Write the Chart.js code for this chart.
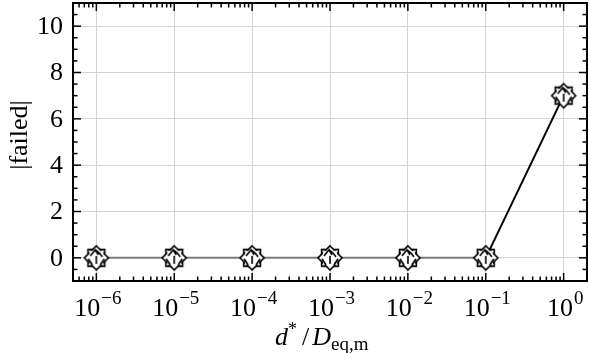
<!DOCTYPE html>
<html>
<head>
<meta charset="utf-8">
<script src="https://cdn.jsdelivr.net/npm/chart.js@4/dist/chart.umd.min.js"></script>
<style>
  html, body { margin: 0; padding: 0; background: #fff; }
</style>
</head>
<body>
<canvas id="chart" width="589" height="353"></canvas>
<script>
// data
const exponents = [-6, -5, -4, -3, -2, -1, 0];
const failed = [0, 0, 0, 0, 0, 0, 7];
const yTicks = [0, 2, 4, 6, 8, 10];
const xTickExp = ["\u22126", "\u22125", "\u22124", "\u22123", "\u22122", "\u22121", "0"];

const SERIF = '"Liberation Serif", "DejaVu Serif", serif';

// star-like marker (several overlapped outline markers)
function makeMarker() {
  const s = 30, c = s / 2, r = 12;
  const cv = document.createElement("canvas");
  cv.width = s; cv.height = s;
  const g = cv.getContext("2d");
  g.lineWidth = 1.6;
  g.strokeStyle = "#000";
  g.fillStyle = "#fff";
  const poly = (pts) => {
    g.beginPath();
    pts.forEach((p, i) => (i ? g.lineTo(p[0], p[1]) : g.moveTo(p[0], p[1])));
    g.closePath();
    g.fill();
    g.stroke();
  };
  const q = r * 0.7;
  poly([[c - q, c - q], [c + q, c - q], [c + q, c + q], [c - q, c + q]]);
  poly([[c, c - r], [c + r, c], [c, c + r], [c - r, c]]);
  // fill the union white so only the outer star and a few inner strokes show
  g.fillStyle = "#fff";
  g.beginPath();
  g.moveTo(c - q + 1.5, c - q + 1.5); g.lineTo(c + q - 1.5, c - q + 1.5); g.lineTo(c + q - 1.5, c + q - 1.5); g.lineTo(c - q + 1.5, c + q - 1.5);
  g.closePath(); g.fill();
  // inner arrow strokes
  g.lineWidth = 1.6;
  g.beginPath();
  g.moveTo(c - 6, c - 2); g.lineTo(c - 1, c - 8); g.lineTo(c + 2, c - 3);
  g.moveTo(c - 1, c - 8); g.lineTo(c + 3, c - 5); g.lineTo(c + 6, c - 1);
  g.moveTo(c - 8, c + 1); g.lineTo(c - 4, c + 7);
  g.moveTo(c + 8, c + 1); g.lineTo(c + 4, c + 7);
  g.moveTo(c, c - 2); g.lineTo(c, c + 6);
  g.stroke();
  return cv;
}

const framePlugin = {
  id: "frame",
  afterDraw(chart) {
    const { ctx, chartArea: a, scales } = chart;
    const xs = scales.x, ys = scales.y;
    ctx.save();
    ctx.strokeStyle = "#000";

    // inward ticks
    ctx.lineWidth = 1.5;
    const tick = (x1, y1, x2, y2) => { ctx.beginPath(); ctx.moveTo(x1, y1); ctx.lineTo(x2, y2); ctx.stroke(); };
    for (let e = -7; e <= 0; e++) {
      for (let k = 1; k <= 9; k++) {
        const v = k * Math.pow(10, e);
        if (v < xs.min || v > xs.max) continue;
        const px = xs.getPixelForValue(v);
        const len = k === 1 ? 8 : 4.5;
        tick(px, a.bottom, px, a.bottom - len);
        tick(px, a.top, px, a.top + len);
      }
    }
    for (let v = -1; v <= 11; v += 0.5) {
      const py = ys.getPixelForValue(v);
      const len = (v % 2 === 0) ? 8 : 4.5;
      tick(a.left, py, a.left + len, py);
      tick(a.right, py, a.right - len, py);
    }

    // frame
    ctx.lineWidth = 2;
    ctx.strokeRect(a.left, a.top, a.right - a.left, a.bottom - a.top);

    // y tick labels
    ctx.fillStyle = "#000";
    ctx.font = "26px " + SERIF;
    ctx.textAlign = "right";
    ctx.textBaseline = "middle";
    yTicks.forEach((v) => ctx.fillText(String(v), a.left - 10, ys.getPixelForValue(v) + 1));

    // x tick labels 10^n
    ctx.textBaseline = "alphabetic";
    exponents.forEach((e, i) => {
      const px = xs.getPixelForValue(Math.pow(10, e));
      ctx.font = "26px " + SERIF;
      const wb = ctx.measureText("10").width;
      ctx.font = "19px " + SERIF;
      const we = ctx.measureText(xTickExp[i]).width;
      const x0 = px - (wb + we) / 2 + 1;
      ctx.textAlign = "left";
      ctx.font = "26px " + SERIF;
      ctx.fillText("10", x0, 316);
      ctx.font = "19px " + SERIF;
      ctx.fillText(xTickExp[i], x0 + wb + 1, 304);
    });

    // x axis title: d* / D_eq,m
    let x = 275;
    const base = 345;
    const seg = (t, font, dy) => { ctx.font = font; ctx.fillText(t, x, base + dy); x += ctx.measureText(t).width; };
    ctx.textAlign = "left";
    seg("d", "italic 26px " + SERIF, 0);
    seg("*", "18px " + SERIF, -10);
    x += 5;
    seg("/", "26px " + SERIF, 0);
    x += 3;
    seg("D", "italic 26px " + SERIF, 0);
    seg("eq,m", "19px " + SERIF, 5);

    // y axis title
    ctx.save();
    ctx.translate(27, (a.top + a.bottom) / 2 - 7);
    ctx.rotate(-Math.PI / 2);
    ctx.textAlign = "center";
    ctx.textBaseline = "alphabetic";
    ctx.font = "26px " + SERIF;
    ctx.fillText("|failed|", 0, 0);
    ctx.restore();

    ctx.restore();
  }
};

const marker = makeMarker();

new Chart(document.getElementById("chart"), {
  type: "line",
  data: {
    datasets: [{
      data: exponents.map((e, i) => ({ x: Math.pow(10, e), y: failed[i] })),
      borderWidth: 2,
      borderColor: "#000",
      segment: {
        borderColor: (c) => (c.p0.parsed.y === 0 && c.p1.parsed.y === 0 ? "#7a7a7a" : "#000")
      },
      pointStyle: marker,
      pointRadius: 12,
      pointHoverRadius: 12,
      tension: 0
    }]
  },
  options: {
    responsive: false,
    animation: false,
    devicePixelRatio: 1,
    layout: { autoPadding: false, padding: { left: 73, right: 2, top: 3, bottom: 72 } },
    plugins: { legend: { display: false }, tooltip: { enabled: false } },
    scales: {
      x: {
        type: "logarithmic",
        min: Math.pow(10, -6.3),
        max: Math.pow(10, 0.3),
        afterBuildTicks: (s) => { s.ticks = exponents.map((e) => ({ value: Math.pow(10, e) })); },
        ticks: { display: false },
        grid: { color: "#d4d4d4", lineWidth: 1, drawTicks: false },
        border: { display: false }
      },
      y: {
        min: -1,
        max: 11,
        afterBuildTicks: (s) => { s.ticks = yTicks.map((v) => ({ value: v })); },
        ticks: { display: false },
        grid: { color: "#d4d4d4", lineWidth: 1, drawTicks: false },
        border: { display: false }
      }
    }
  },
  plugins: [framePlugin]
});
</script>
</body>
</html>
